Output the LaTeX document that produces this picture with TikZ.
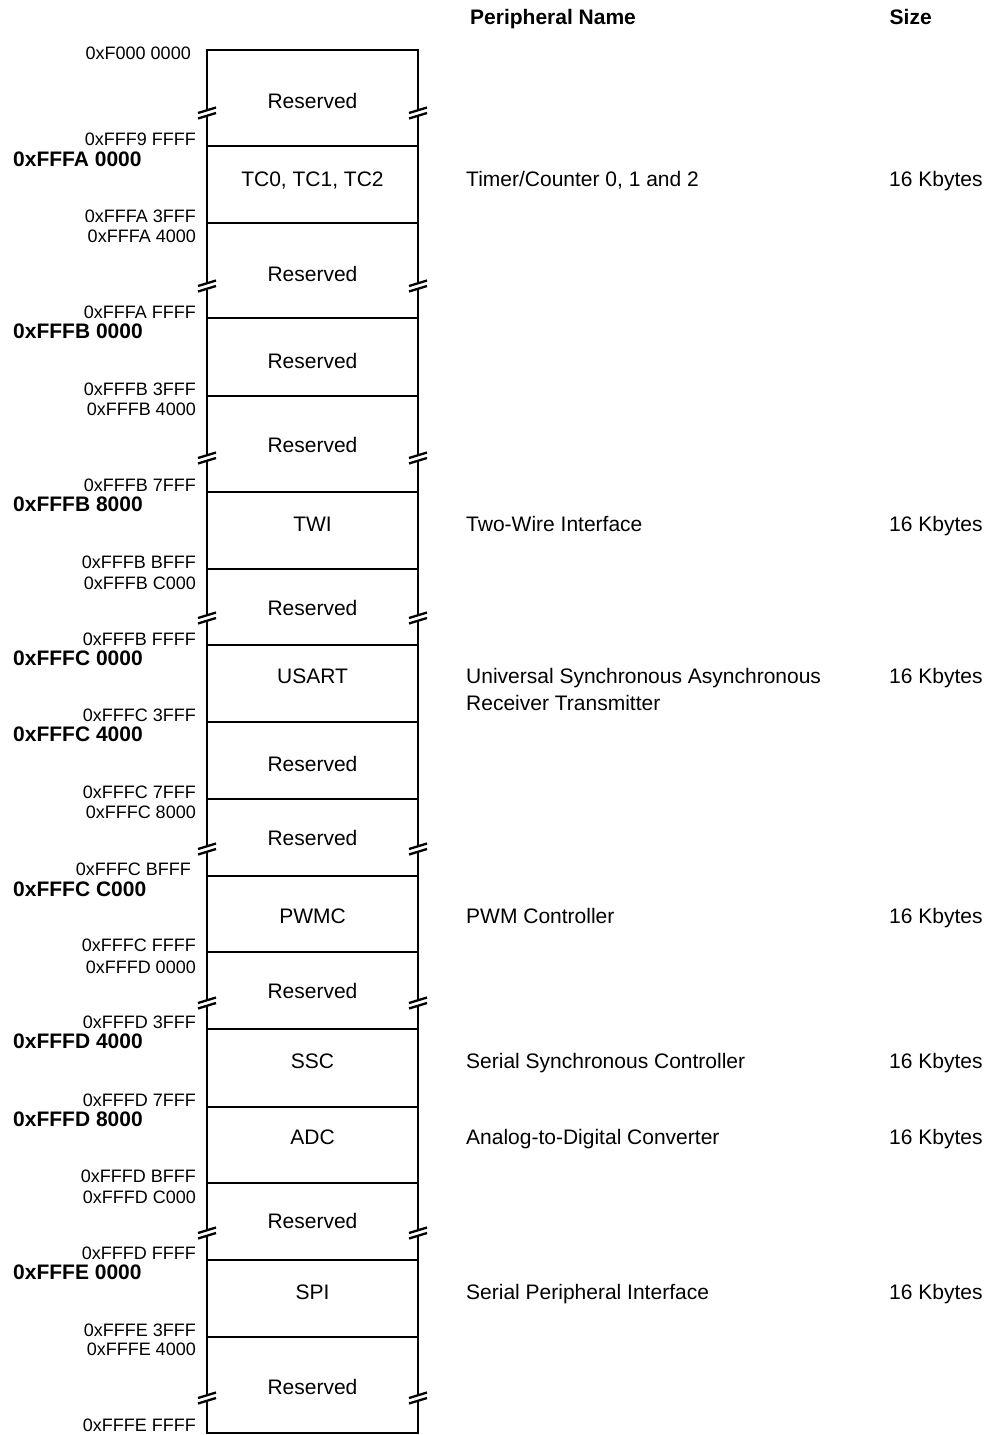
\documentclass[tikz,border=0pt]{standalone}
\usepackage{fontspec}
\setmainfont{Liberation Sans}
\begin{document}
\begin{tikzpicture}[x=1pt, y=-1pt,
  map_style/.style={draw=black, line width=2.6pt},
  addr_style/.style={anchor=base east, inner sep=0pt, font=\fontsize{18}{20}\selectfont},
  bold_addr_style/.style={anchor=base west, inner sep=0pt, font=\fontsize{21}{24}\selectfont\bfseries},
  block_style/.style={anchor=base, inner sep=0pt, font=\fontsize{21}{24}\selectfont},
  desc_style/.style={anchor=base west, inner sep=0pt, font=\fontsize{21}{24}\selectfont},
  head_style/.style={anchor=base west, inner sep=0pt, font=\fontsize{21}{24}\selectfont\bfseries},
  break_mark/.pic={
    \fill[white] (-9,0) -- (9,-5.5) -- (9,0) -- (-9,5.5) -- cycle;
    \draw[line width=2.3pt] (-9,0) -- (9,-5.5) (-9,5.5) -- (9,0);}]
      \useasboundingbox (0,0) rectangle (1003,1435);
      % memory column
      \draw[map_style] (207,50) rectangle (418,1433);
      \draw[map_style]
        (207,146) -- (418,146)   (207,223) -- (418,223)
        (207,318) -- (418,318)   (207,396) -- (418,396)
        (207,492) -- (418,492)   (207,569) -- (418,569)
        (207,645) -- (418,645)   (207,722) -- (418,722)
        (207,799) -- (418,799)   (207,876) -- (418,876)
        (207,952) -- (418,952)   (207,1029) -- (418,1029)
        (207,1107) -- (418,1107) (207,1183) -- (418,1183)
        (207,1260) -- (418,1260) (207,1337) -- (418,1337);
      % breaks
      \path (207,113) pic {break_mark} (418,113) pic {break_mark}
        (207,286) pic {break_mark} (418,286) pic {break_mark}
        (207,458) pic {break_mark} (418,458) pic {break_mark}
        (207,618) pic {break_mark} (418,618) pic {break_mark}
        (207,849) pic {break_mark} (418,849) pic {break_mark}
        (207,1003) pic {break_mark} (418,1003) pic {break_mark}
        (207,1233) pic {break_mark} (418,1233) pic {break_mark}
        (207,1398) pic {break_mark} (418,1398) pic {break_mark};
      % block names
      \draw
        (312.5,108.5) node[block_style] (rsv1){Reserved}
        (312.5,186) node[block_style] (tc){TC0, TC1, TC2}
        (312.5,281) node[block_style] (rsv2){Reserved}
        (312.5,368) node[block_style] (rsv3){Reserved}
        (312.5,452.5) node[block_style] (rsv4){Reserved}
        (312.5,531.5) node[block_style] (twi){TWI}
        (312.5,615) node[block_style] (rsv5){Reserved}
        (312.5,683.5) node[block_style] (usart){USART}
        (312.5,771.5) node[block_style] (rsv6){Reserved}
        (312.5,845.5) node[block_style] (rsv7){Reserved}
        (312.5,923.5) node[block_style] (pwmc){PWMC}
        (312.5,998.5) node[block_style] (rsv8){Reserved}
        (312.5,1068.5) node[block_style] (ssc){SSC}
        (312.5,1144.5) node[block_style] (adc){ADC}
        (312.5,1228.5) node[block_style] (rsv9){Reserved}
        (312.5,1299.5) node[block_style] (spi){SPI}
        (312.5,1394.5) node[block_style] (rsv10){Reserved};
      % addresses
      \draw
        (191,59) node[addr_style] (a0){0xF000 0000}
        (196,145) node[addr_style] (a1){0xFFF9 FFFF}
        (13,166) node[bold_addr_style] (b1){0xFFFA 0000}
        (196,222) node[addr_style] (a2){0xFFFA 3FFF}
        (196,242) node[addr_style] (c2){0xFFFA 4000}
        (196,318) node[addr_style] (a3){0xFFFA FFFF}
        (13,338) node[bold_addr_style] (b3){0xFFFB 0000}
        (196,395) node[addr_style] (a4){0xFFFB 3FFF}
        (196,415) node[addr_style] (c4){0xFFFB 4000}
        (196,491) node[addr_style] (a5){0xFFFB 7FFF}
        (13,511.5) node[bold_addr_style] (b5){0xFFFB 8000}
        (196,568) node[addr_style] (a6){0xFFFB BFFF}
        (196,589) node[addr_style] (c6){0xFFFB C000}
        (196,645) node[addr_style] (a7){0xFFFB FFFF}
        (13,665) node[bold_addr_style] (b7){0xFFFC 0000}
        (196,721) node[addr_style] (a8){0xFFFC 3FFF}
        (13,741.5) node[bold_addr_style] (b8){0xFFFC 4000}
        (196,798) node[addr_style] (a9){0xFFFC 7FFF}
        (196,818) node[addr_style] (c9){0xFFFC 8000}
        (191,875) node[addr_style] (a10){0xFFFC BFFF}
        (13,896) node[bold_addr_style] (b10){0xFFFC C000}
        (196,951) node[addr_style] (a11){0xFFFC FFFF}
        (196,973) node[addr_style] (c11){0xFFFD 0000}
        (196,1028) node[addr_style] (a12){0xFFFD 3FFF}
        (13,1048) node[bold_addr_style] (b12){0xFFFD 4000}
        (196,1106) node[addr_style] (a13){0xFFFD 7FFF}
        (13,1126) node[bold_addr_style] (b13){0xFFFD 8000}
        (196,1182) node[addr_style] (a14){0xFFFD BFFF}
        (196,1203) node[addr_style] (c14){0xFFFD C000}
        (196,1259) node[addr_style] (a15){0xFFFD FFFF}
        (13,1279) node[bold_addr_style] (b15){0xFFFE 0000}
        (196,1336) node[addr_style] (a16){0xFFFE 3FFF}
        (196,1355) node[addr_style] (c16){0xFFFE 4000}
        (196,1431) node[addr_style] (a17){0xFFFE FFFF};
      % peripheral names and sizes
      \draw
        (470,24.5) node[head_style] (hname){Peripheral Name}
        (889.5,24.5) node[head_style] (hsize){Size}
        (466,186) node[desc_style] (tc_name){Timer/Counter 0, 1 and 2}
        (889,186) node[desc_style] (tc_size){16 Kbytes}
        (466,531.5) node[desc_style] (twi_name){Two-Wire Interface}
        (889,531.5) node[desc_style] (twi_size){16 Kbytes}
        (466,683.5) node[desc_style] (usart_name){Universal Synchronous Asynchronous}
        (466,710) node[desc_style] (usart_name2){Receiver Transmitter}
        (889,683.5) node[desc_style] (usart_size){16 Kbytes}
        (466,923.5) node[desc_style] (pwmc_name){PWM Controller}
        (889,923.5) node[desc_style] (pwmc_size){16 Kbytes}
        (466,1068.5) node[desc_style] (ssc_name){Serial Synchronous Controller}
        (889,1068.5) node[desc_style] (ssc_size){16 Kbytes}
        (466,1144.5) node[desc_style] (adc_name){Analog-to-Digital Converter}
        (889,1144.5) node[desc_style] (adc_size){16 Kbytes}
        (466,1299.5) node[desc_style] (spi_name){Serial Peripheral Interface}
        (889,1299.5) node[desc_style] (spi_size){16 Kbytes};
    \end{tikzpicture}
\end{document}
